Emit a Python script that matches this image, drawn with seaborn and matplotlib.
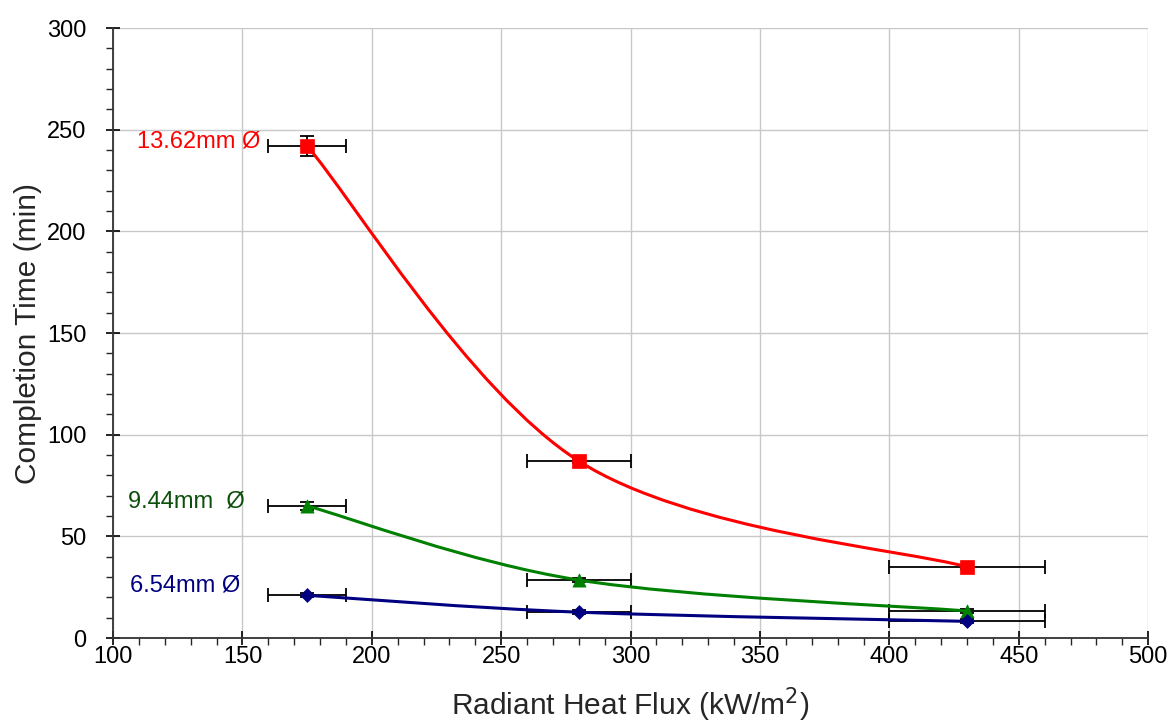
import numpy as np
import pandas as pd
import seaborn as sns
import matplotlib.pyplot as plt
from matplotlib.path import Path
from matplotlib.patches import PathPatch
from matplotlib.ticker import MultipleLocator

# Data
flux = [175, 280, 430]
flux_err = [15, 20, 30]
time_1362 = [242, 87, 35]
time_944 = [65, 28.5, 13.3]
time_654 = [21, 12.7, 8.2]
yerr_1362 = [5, 1, 1]
yerr_944 = [2, 1, 1]
yerr_654 = [1, 1, 1]

sns.set_style("white")
plt.rcParams['font.family'] = ['Liberation Sans', 'DejaVu Sans']

fig = plt.figure(figsize=(11.74, 7.26), dpi=100)
ax = fig.add_axes([0.0963, 0.1212, 0.8817, 0.8402])
ax.set_xlim(100, 500)
ax.set_ylim(0, 300)


def smooth_curve(ax, xs, ys, color):
    # Excel-style smoothed line: cubic Bezier through the points, built in pixel space
    pts = ax.transData.transform(np.column_stack([xs, ys]))
    n = len(pts)
    verts = [pts[0]]
    codes = [Path.MOVETO]
    for i in range(n - 1):
        p_prev = pts[max(i - 1, 0)]
        p0, p1 = pts[i], pts[i + 1]
        p_next = pts[min(i + 2, n - 1)]
        c1 = p0 + (p1 - p_prev) / 6
        c2 = p1 - (p_next - p0) / 6
        verts += [c1, c2, p1]
        codes += [Path.CURVE4] * 3
    verts = ax.transData.inverted().transform(np.array(verts))
    ax.add_patch(PathPatch(Path(verts, codes), fill=False, edgecolor=color,
                           lw=2.2, zorder=3, capstyle='round'))


series = [
    ("13.62mm", time_1362, yerr_1362, "#ff0000", "s", 105),
    ("9.44mm", time_944, yerr_944, "#008000", "^", 90),
    ("6.54mm", time_654, yerr_654, "#000080", "D", 50),
]

fig.canvas.draw()
for name, t, ye, col, mk, ms in series:
    ax.errorbar(flux, t, xerr=flux_err, yerr=ye, fmt="none", ecolor="black",
                elinewidth=1.3, capsize=5, capthick=1.3, zorder=2)
    smooth_curve(ax, flux, t, col)
    df = pd.DataFrame({"flux": flux, "time": t})
    sns.scatterplot(data=df, x="flux", y="time", color=col, marker=mk, s=ms,
                    edgecolor=col, linewidth=0.5, zorder=4, ax=ax, legend=False)

ax.text(109.3, 244, "13.62mm Ø", color="#ff0000", fontsize=17, va="center")
ax.text(105.8, 67, "9.44mm  Ø", color="#0b4f0b", fontsize=17, va="center")
ax.text(106.6, 25.6, "6.54mm Ø", color="#000080", fontsize=17, va="center")

ax.xaxis.set_major_locator(MultipleLocator(50))
ax.xaxis.set_minor_locator(MultipleLocator(10))
ax.yaxis.set_major_locator(MultipleLocator(50))
ax.yaxis.set_minor_locator(MultipleLocator(10))
ax.grid(True, which="major", color="#c8c8c8", lw=1.0)
ax.set_axisbelow(True)
ax.tick_params(which="major", direction="inout", length=10, width=1.2,
               labelsize=17, colors="black", left=True, bottom=True)
ax.tick_params(axis="x", which="major", pad=1)
ax.tick_params(axis="y", which="major", pad=14)
ax.tick_params(which="minor", direction="out", length=5, width=1.0,
               left=True, bottom=True)
for s in ["top", "right"]:
    ax.spines[s].set_visible(False)
for s in ["left", "bottom"]:
    ax.spines[s].set_color("#333333")
    ax.spines[s].set_linewidth(1.3)

ax.set_xlabel("Radiant Heat Flux (kW/m$^2$)", fontsize=21.5, labelpad=12)
ax.set_ylabel("Completion Time (min)", fontsize=21.5, labelpad=4)

fig.savefig("out.png", dpi=100)
